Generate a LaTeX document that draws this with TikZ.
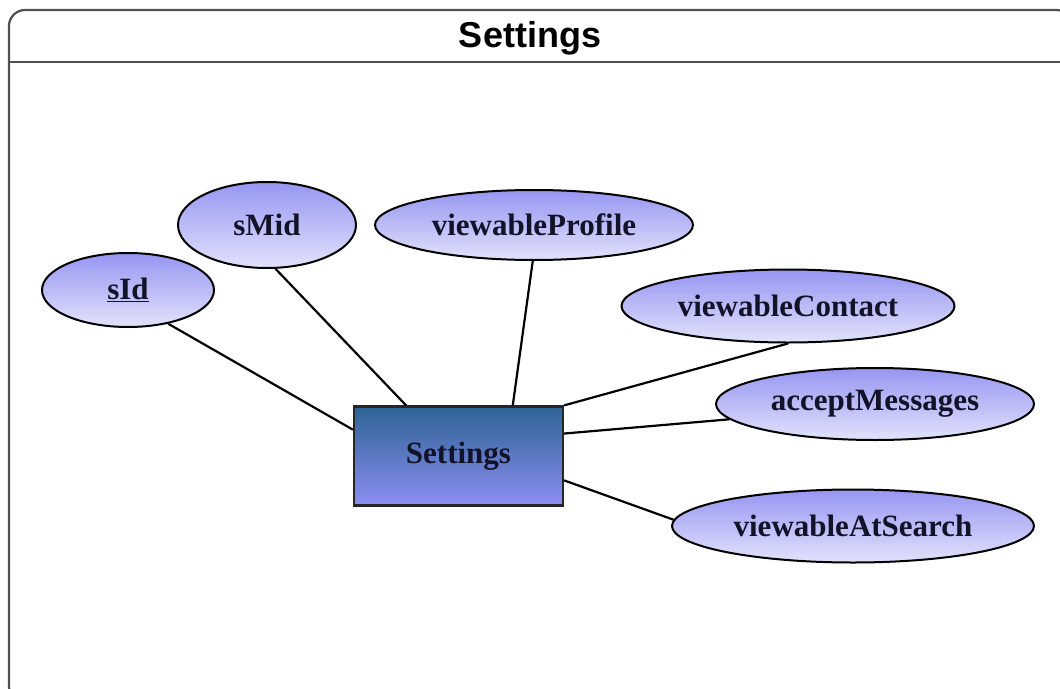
\documentclass[tikz,border=0pt]{standalone}
\usepackage{fontspec}
\setmainfont{Liberation Serif}
\newfontfamily\titlefont{Liberation Sans}
\usetikzlibrary{shapes.geometric}
\definecolor{ellTop}{HTML}{9696F2}
\definecolor{ellBot}{HTML}{E2E2FC}
\definecolor{entTop}{HTML}{2D6394}
\definecolor{entBot}{HTML}{8C8EF2}
\definecolor{txt}{HTML}{121228}
\definecolor{framec}{HTML}{505050}
\tikzset{
  attr/.style={ellipse, draw=black, line width=2pt, top color=ellTop, bottom color=ellBot,
    inner sep=0pt, text=txt, font=\bfseries\fontsize{31}{34}\selectfont},
  entity/.style={rectangle, draw=black!85, line width=2.2pt, top color=entTop, bottom color=entBot,
    inner sep=0pt, minimum width=209pt, minimum height=99pt, text=txt, font=\bfseries\fontsize{31}{34}\selectfont},
  link/.style={draw=black, line width=2.2pt},
}
\begin{document}
\begin{tikzpicture}[x=1pt,y=-1pt]
\useasboundingbox (0,0) rectangle (1060,688);
\begin{scope}
\clip (0,0) rectangle (1060,688);
\fill[white] (0,0) rectangle (1060,688);
\draw[framec, line width=2.2pt, rounded corners=16pt] (9,10) rectangle (1072,702);
\draw[framec, line width=2.2pt] (9,62) -- (1060,62);
\end{scope}
\node[font=\titlefont\bfseries\fontsize{36}{40}\selectfont, text=black] (title) at (530,38) {Settings};

\node[entity] (set) at (458.5,456) {Settings};

\node[attr, minimum width=172pt, minimum height=74pt] (sid) at (128,290) {\underline{sId}};
\node[attr, minimum width=178pt, minimum height=86pt] (smid) at (267,225) {sMid};
\node[attr, minimum width=318pt, minimum height=70pt] (vp) at (534,225) {viewableProfile};
\node[attr, minimum width=333pt, minimum height=73pt] (vc) at (788,306) {viewableContact};
\node[attr, minimum width=318pt, minimum height=72pt] (am) at (875,404) {acceptMessages};
\node[attr, minimum width=362pt, minimum height=73pt] (vs) at (853,526) {viewableAtSearch};

\draw[link] (sid.-40) -- (set.166.5);
\draw[link] (smid.-79) -- (set.136.7);
\draw[link] (vp.-92) -- (set.43.3);
\draw[link] (vc.-90) -- (set.north east);
\draw[link] (am.186.5) -- (set.12.9);
\draw[link] (vs.178) -- (set.-13.9);
\end{tikzpicture}
\end{document}
